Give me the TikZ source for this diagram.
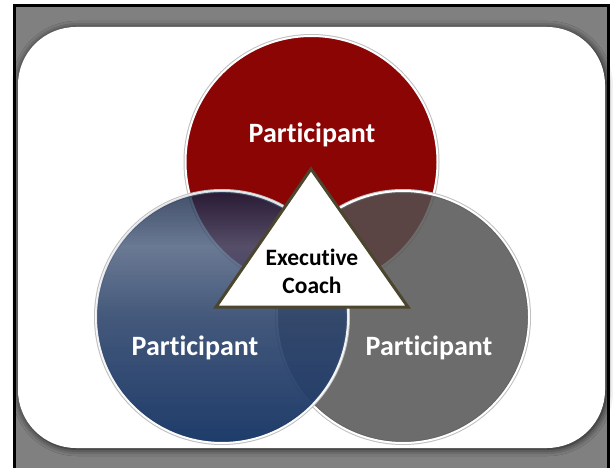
\documentclass[tikz,border=0pt]{standalone}
\usepackage{fontspec}
\setmainfont[Ligatures=NoCommon]{Carlito}
\usetikzlibrary{shadows.blur,fadings}

\definecolor{framegray}{RGB}{128,128,128}
\definecolor{discred}{RGB}{139,5,5}
\definecolor{discgray}{RGB}{81,81,81}
\definecolor{bluetop}{RGB}{15,32,66}
\definecolor{bluehigh}{RGB}{76,94,126}
\definecolor{bluemid}{RGB}{45,68,107}
\definecolor{bluelow}{RGB}{30,60,106}
\definecolor{coachedge}{RGB}{75,70,45}

\pgfdeclareverticalshading{bluedisc}{100bp}{color(0bp)=(bluelow); color(25bp)=(bluelow); color(50bp)=(bluemid); color(64bp)=(bluehigh); color(75bp)=(bluetop); color(100bp)=(bluetop)}
\tikzfading[name=discfade, top color=transparent!22, bottom color=transparent!0]

\begin{document}
\begin{tikzpicture}[x=1pt, y=1pt,
		disc/.style={circle, minimum size=252pt, inner sep=0pt, draw=white, line width=2pt, preaction={draw=black!25, line width=4pt}},
		who/.style={text=white, font=\fontsize{28}{32}\selectfont\bfseries, anchor=base},
		coach/.style={font=\fontsize{23.5}{28}\selectfont\bfseries, anchor=base}]
		\useasboundingbox (0,0) rectangle (613,467);
		\draw[fill=framegray, line width=3pt] (14.5,-10) rectangle (608.5,461);
		\fill[white, rounded corners=58pt, blur shadow={shadow xshift=1pt, shadow yshift=-1pt, shadow blur radius=7pt, shadow opacity=85}] (18,19) rectangle (605,440);
		\node[disc, fill=discred] (red) at (311.5,305) {};
		\node[disc, fill=discgray, fill opacity=0.84] (gray) at (403,150) {};
		\node[disc, shade, shading=bluedisc, path fading=discfade] (blue) at (222,150) {};
		\coordinate (apex) at (311,298);
		\coordinate (left) at (216,160);
		\coordinate (right) at (408,160);
		\draw[coachedge, fill=white, line width=3pt] (apex) -- (right) -- (left) -- cycle;
		\node[coach] (exec) at (312,202) {Executive};
		\node[coach] (coachname) at (312,174) {Coach};
		\node[who] (top) at (312,325) {Participant};
		\node[who] (lower left) at (195,112) {Participant};
		\node[who] (lower right) at (429,112) {Participant};
		\end{tikzpicture}
\end{document}
